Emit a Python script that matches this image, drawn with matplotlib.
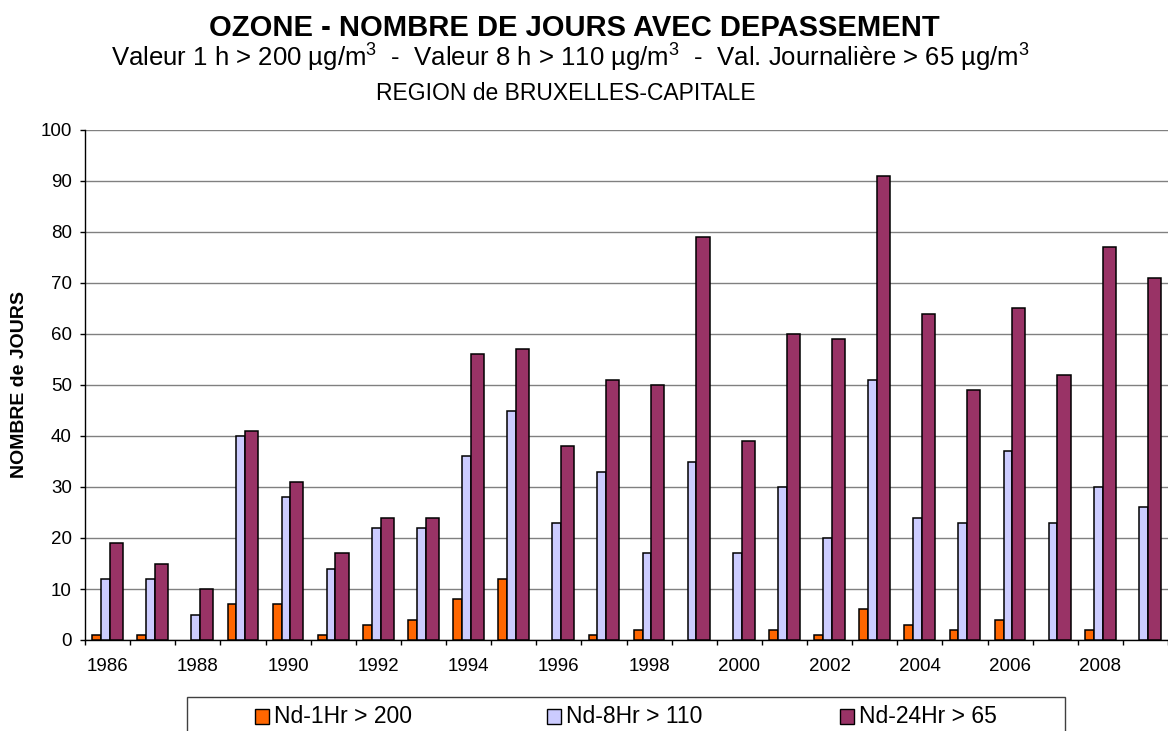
import matplotlib
matplotlib.use('Agg')
import matplotlib.pyplot as plt
from matplotlib.patches import Rectangle
import numpy as np

plt.rcParams['font.family'] = ['Liberation Sans', 'DejaVu Sans']
plt.rcParams['mathtext.default'] = 'regular'

# ---- data ----
years = list(range(1986, 2010))
nd_1hr = [1, 1, 0, 7, 7, 1, 3, 4, 8, 12, 0, 1, 2, 0, 0, 2, 1, 6, 3, 2, 4, 0, 2, 0]
nd_8hr = [12, 12, 5, 40, 28, 14, 22, 22, 36, 45, 23, 33, 17, 35, 17, 30, 20, 51, 24, 23, 37, 23, 30, 26]
nd_24hr = [19, 15, 10, 41, 31, 17, 24, 24, 56, 57, 38, 51, 50, 79, 39, 60, 59, 91, 64, 49, 65, 52, 77, 71]
series_labels = ['Nd-1Hr > 200', 'Nd-8Hr > 110', 'Nd-24Hr > 65']
series_colors = ['#FF6600', '#CCCCFF', '#993366']
yticks = list(range(0, 101, 10))
xtick_years = years[::2]

title = 'OZONE - NOMBRE DE JOURS AVEC DEPASSEMENT'
subtitle = (r'Valeur 1 h > 200 µg/m$^{3}$  -  Valeur 8 h > 110 µg/m$^{3}$  -  '
            r'Val. Journalière > 65 µg/m$^{3}$')
region = 'REGION de BRUXELLES-CAPITALE'
ylabel = 'NOMBRE de JOURS'

# ---- figure ----
W, H = 1168, 731
fig = plt.figure(figsize=(W / 100, H / 100), dpi=100)
ax = fig.add_axes([85 / W, 1 - 640 / H, (W - 85) / W, (640 - 130) / H])

x = np.arange(len(years))
offsets = [-0.34, -0.145, 0.05]
widths = [0.195, 0.195, 0.29]
for vals, col, off, w, lab in zip([nd_1hr, nd_8hr, nd_24hr], series_colors,
                                  offsets, widths, series_labels):
    vals = np.asarray(vals, dtype=float)
    lws = np.where(vals > 0, 1.1, 0.0)
    ax.bar(x + off, vals, width=w, align='edge', color=col,
           edgecolor='black', linewidth=lws, label=lab, zorder=3)

ax.set_xlim(-0.5, -0.5 + (W - 85) / 45.55)
ax.set_ylim(0, 100)
ax.set_yticks(yticks)
ax.set_yticklabels([str(v) for v in yticks])
ax.tick_params(axis='y', length=3.6, width=1, pad=5.8, labelsize=13.5,
               colors='black')

ax.set_xticks(np.arange(-0.5, len(years), 1.0))
ax.set_xticklabels([])
ax.tick_params(axis='x', which='major', length=3.6, width=1, colors='black')
ax.set_xticks([years.index(y) for y in xtick_years], minor=True)
ax.set_xticklabels([str(y) for y in xtick_years], minor=True)
ax.tick_params(axis='x', which='minor', length=0, pad=13, labelsize=13.5)

ax.yaxis.grid(True, color='#808080', linewidth=1)
ax.set_axisbelow(True)
for s in ['top', 'right']:
    ax.spines[s].set_visible(False)
for s in ['left', 'bottom']:
    ax.spines[s].set_color('black')
    ax.spines[s].set_linewidth(1)

# ---- titles ----
fig.text(574 / W, 1 - 36 / H, title, ha='center', va='baseline',
         fontsize=21, fontweight='bold')
fig.text(570 / W, 1 - 67 / H, subtitle, ha='center', va='baseline', fontsize=18.5)
fig.text(566 / W, 1 - 99.5 / H, region, ha='center', va='baseline', fontsize=16.5)
fig.text(20 / W, 1 - 385 / H, ylabel, rotation=90, ha='center', va='center',
         fontsize=14, fontweight='bold')

# ---- legend (manual, bottom cut off like the reference) ----
fig.patches.append(Rectangle((187 / W, -0.1), (1065 - 187) / W, 0.1 + 1 - 697 / H,
                             transform=fig.transFigure, facecolor='none',
                             edgecolor='#404040', linewidth=1))
legend_x = [255, 547, 840]
for lab, col, lx in zip(series_labels, series_colors, legend_x):
    fig.patches.append(Rectangle((lx / W, 1 - 724 / H), 14 / W, 15 / H,
                                 transform=fig.transFigure, facecolor=col,
                                 edgecolor='black', linewidth=1))
    fig.text((lx + 19) / W, 1 - 716.5 / H, lab, ha='left', va='center', fontsize=16.5)

fig.savefig('out.png', dpi=100)
